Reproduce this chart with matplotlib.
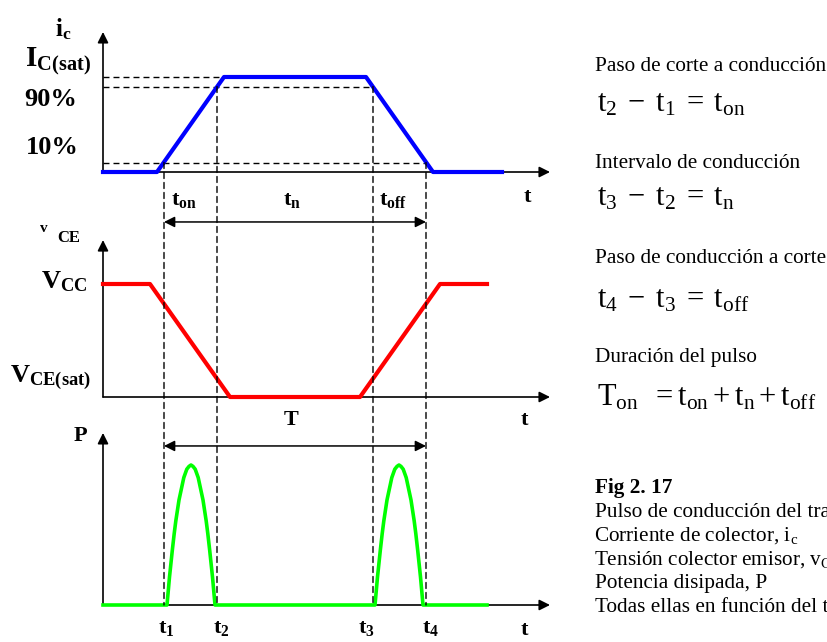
import matplotlib.pyplot as plt
from matplotlib.patches import ConnectionPatch

plt.rcParams["font.family"] = "Liberation Serif"
plt.rcParams["mathtext.fontset"] = "custom"
plt.rcParams["mathtext.rm"] = "Liberation Serif"
plt.rcParams["mathtext.it"] = "Liberation Serif:italic"
plt.rcParams["mathtext.bf"] = "Liberation Serif:bold"

# ----------------------------------------------------------
# DATA  (time in arbitrary units, levels normalised to 1)
# ----------------------------------------------------------
t_marks = [6.1, 11.4, 27.0, 32.3]
t_names = [r"$\mathbf{t}_\mathbf{1}$", r"$\mathbf{t}_\mathbf{2}$",
           r"$\mathbf{t}_\mathbf{3}$", r"$\mathbf{t}_\mathbf{4}$"]
t_end = 44.7

# collector current i_c
ic_t = [0.0, 5.4, 12.1, 26.3, 33.0, 39.9]
ic_lvl = [0, 0, 1, 1, 0, 0]
ic_sat = 1.0
ic_90 = 0.9
ic_10 = 0.1

# collector-emitter voltage v_CE
vce_t = [0.0, 4.7, 12.7, 25.7, 33.7, 38.4]
vce_lvl = [1, 1, 0, 0, 1, 1]

# dissipated power P
p_t = [0.0, 6.4, 6.65, 6.93, 7.12, 7.28, 7.6, 8.08, 8.38, 8.6, 8.8, 9.0,
       9.22, 9.52, 10.0, 10.32, 10.48, 10.67, 10.95, 11.2,
       27.2, 27.45, 27.73, 27.92, 28.08, 28.4, 28.88, 29.18, 29.4, 29.6,
       29.8, 30.02, 30.32, 30.8, 31.12, 31.28, 31.47, 31.75, 32.0, 38.4]
p_lvl = [0, 0, 0.2, 0.39, 0.51, 0.6, 0.75, 0.91, 0.97, 0.99, 1.0, 0.99,
         0.97, 0.91, 0.75, 0.6, 0.51, 0.39, 0.2, 0,
         0, 0.2, 0.39, 0.51, 0.6, 0.75, 0.91, 0.97, 0.99, 1.0,
         0.99, 0.97, 0.91, 0.75, 0.6, 0.51, 0.39, 0.2, 0, 0]

# ----------------------------------------------------------
# LAYOUT
# ----------------------------------------------------------
W, H = 827, 642
fig = plt.figure(figsize=(W / 100, H / 100), dpi=100)
fig.patch.set_facecolor("white")

X0, SX = 103, 10.0          # pixel of t=0, pixels per time unit
XLIM = (-X0 / SX, (W - X0) / SX)


def panel(top_px, bot_px, base_px, unit_px):
    ax = fig.add_axes([0, 1 - bot_px / H, 1, (bot_px - top_px) / H])
    ax.set_xlim(*XLIM)
    ax.set_ylim(-(bot_px - base_px) / unit_px, (base_px - top_px) / unit_px)
    ax.axis("off")
    return ax


ax_i = panel(0, 215, 172, 95)
ax_v = panel(215, 415, 397, 113)
ax_p = panel(415, 642, 605, 140)

AX_KW = dict(arrowstyle="-|>", color="black", lw=1.2, mutation_scale=16,
             shrinkA=0, shrinkB=0)
DASH = (0, (4.3, 2.9))


def axes_arrows(ax, y_top):
    ax.annotate("", xy=(t_end, 0), xytext=(0, 0), arrowprops=AX_KW,
                annotation_clip=False)
    ax.annotate("", xy=(0, y_top), xytext=(0, 0), arrowprops=AX_KW,
                annotation_clip=False)


axes_arrows(ax_i, 1.474)
axes_arrows(ax_v, 1.389)
axes_arrows(ax_p, 1.229)

# reference levels in the current panel
ax_i.plot([0, ic_t[2]], [ic_sat, ic_sat], color="black", lw=1, ls=DASH)
ax_i.plot([0, t_marks[2]], [ic_90, ic_90], color="black", lw=1, ls=DASH)
ax_i.plot([0, t_marks[3]], [ic_10, ic_10], color="black", lw=1, ls=DASH)

# vertical markers t1..t4 running down through all three panels
for tm, lvl in zip(t_marks, [ic_10, ic_90, ic_90, ic_10]):
    con = ConnectionPatch(xyA=(tm, lvl), coordsA=ax_i.transData,
                          xyB=(tm, 0), coordsB=ax_p.transData,
                          color="black", lw=1, ls=DASH)
    fig.add_artist(con)

# waveforms
ax_i.plot(ic_t, ic_lvl, color="#0000ff", lw=3, zorder=5)
ax_v.plot(vce_t, vce_lvl, color="#ff0000", lw=3, zorder=5)
ax_p.plot(p_t, p_lvl, color="#00ff00", lw=2.6, zorder=5)

# interval arrows
SPAN_KW = dict(arrowstyle="<|-|>", color="black", lw=1.1, mutation_scale=16,
               shrinkA=0, shrinkB=0)
ax_v.annotate("", xy=(t_marks[3], 1.549), xytext=(t_marks[0], 1.549),
              arrowprops=SPAN_KW, annotation_clip=False)
ax_p.annotate("", xy=(t_marks[3], 1.136), xytext=(t_marks[0], 1.136),
              arrowprops=SPAN_KW, annotation_clip=False)


# ----------------------------------------------------------
# LABELS
# ----------------------------------------------------------
def ptext(x, y, s, **kw):
    kw.setdefault("va", "center")
    fig.text(x / W, 1 - y / H, s, **kw)


B = dict(fontweight="bold")
ptext(63, 29, r"$\mathbf{i}_\mathbf{c}$", fontsize=18, ha="center")
ptext(25, 61, r"$\mathbf{I}_{\mathbf{C(sat)}}$", fontsize=21, ha="left")
ptext(24, 100, "90%", fontsize=19, ha="left", **B)
ptext(26, 148, "10%", fontsize=19, ha="left", **B)
ptext(171, 201, r"$\mathbf{t}_{\mathbf{on}}$", fontsize=16, ha="left")
ptext(283, 201, r"$\mathbf{t}_{\mathbf{n}}$", fontsize=16, ha="left")
ptext(379, 201, r"$\mathbf{t}_{\mathbf{off}}$", fontsize=16, ha="left")
ptext(527, 197, "t", fontsize=16, ha="center", **B)

ptext(44, 229, "v", fontsize=11, ha="center", **B)
ptext(69, 238, "CE", fontsize=12, ha="center", **B)
ptext(41, 282, r"$\mathbf{V}_{\mathbf{CC}}$", fontsize=19, ha="left")
ptext(10, 378, r"$\mathbf{V}_{\mathbf{CE(sat)}}$", fontsize=19, ha="left")
ptext(524, 420, "t", fontsize=16, ha="center", **B)

ptext(291, 420, "T", fontsize=16, ha="center", **B)
ptext(80, 436, "P", fontsize=16, ha="center", **B)
for tm, name, dx in zip(t_marks, t_names, [2, 4, -7, 5]):
    ptext(X0 + tm * SX + dx, 628, name, fontsize=16, ha="center")
ptext(524, 630, "t", fontsize=16, ha="center", **B)

# right-hand notes
R = 595
NOTE = dict(fontsize=15.3, ha="left", va="baseline")
EQ = dict(fontsize=22, ha="left", va="baseline")
ptext(R, 71, "Paso de corte a conducción", **NOTE)
ptext(R + 2, 112, r"$\mathrm{t}_2\;-\;\mathrm{t}_1\;=\;\mathrm{t}_{\mathrm{on}}$", **EQ)
ptext(R, 168, "Intervalo de conducción", **NOTE)
ptext(R + 2, 205, r"$\mathrm{t}_3\;-\;\mathrm{t}_2\;=\;\mathrm{t}_\mathrm{n}$", **EQ)
ptext(R, 263, "Paso de conducción a corte", **NOTE)
ptext(R + 2, 307, r"$\mathrm{t}_4\;-\;\mathrm{t}_3\;=\;\mathrm{t}_{\mathrm{off}}$", **EQ)
ptext(R, 362, "Duración del pulso", **NOTE)
ptext(R + 2, 405, r"$\mathrm{T}_{\mathrm{on}}\ \;=\mathrm{t}_{\mathrm{on}}"
      r"+\mathrm{t}_\mathrm{n}+\mathrm{t}_{\mathrm{off}}$", **EQ)

ptext(R, 493, "Fig 2. 17", fontweight="bold", **NOTE)
caption = ["Pulso de conducción del transistor",
           r"Corriente de colector, i$_\mathrm{c}$",
           r"Tensión colector emisor, v$_\mathrm{CE}$",
           "Potencia disipada, P",
           "Todas ellas en función del tiempo"]
for k, line in enumerate(caption):
    dx = -1.5 if "$" in line else 0
    ptext(R + dx, 517 + k * 23.7, line, **NOTE)

fig.savefig("out.png", dpi=100, facecolor="white")
